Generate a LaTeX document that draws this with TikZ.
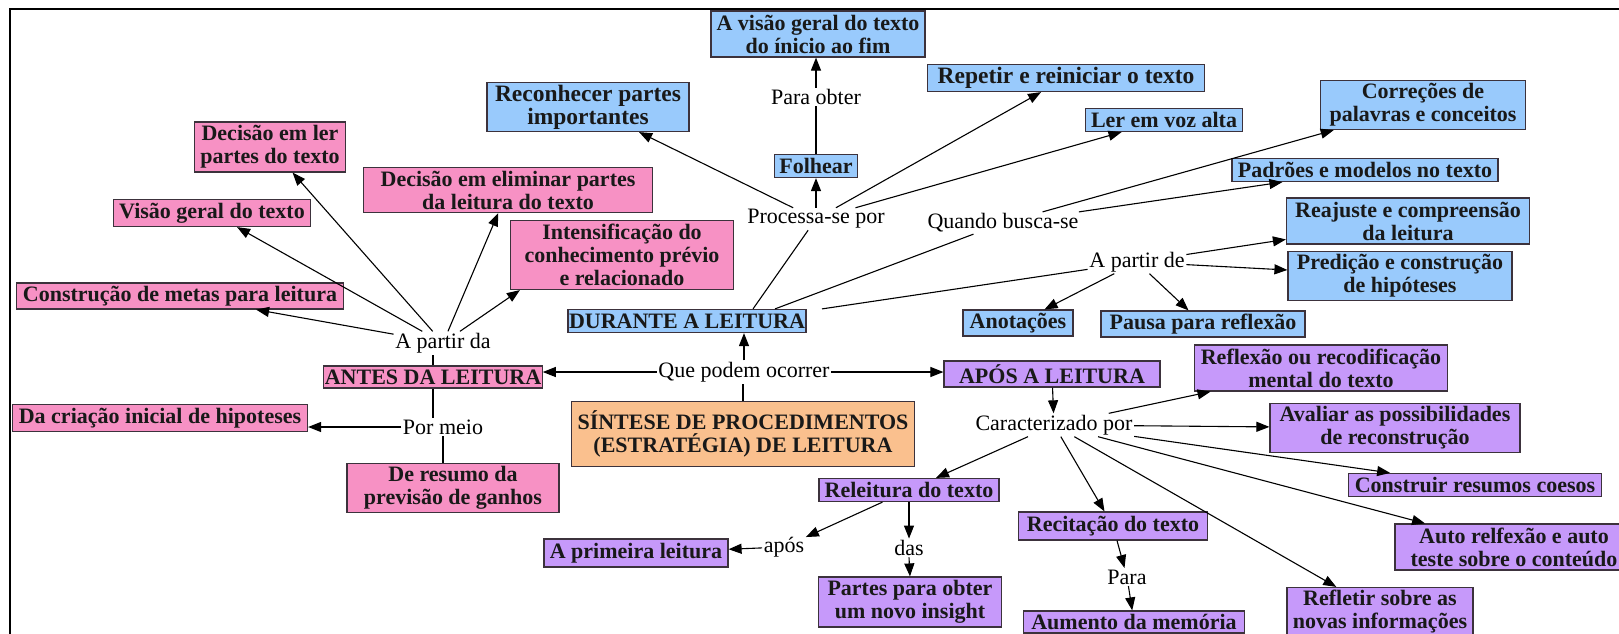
\documentclass[tikz,border=0pt]{standalone}
\usepackage{fontspec}
\setmainfont{Liberation Serif}
\usetikzlibrary{arrows.meta,calc}
\definecolor{pinkc}{RGB}{247,145,196}
\definecolor{bluec}{RGB}{153,202,252}
\definecolor{purpc}{RGB}{198,153,250}
\definecolor{orgc}{RGB}{250,192,142}
\definecolor{edgec}{RGB}{60,50,60}
\tikzset{
  box/.style={draw=edgec, line width=1.2pt, font=\bfseries\fontsize{22}{23}\selectfont, align=center, inner sep=1pt, text=black!90},
  bigtxt/.style={font=\bfseries\fontsize{23.5}{23}\selectfont},
  pk/.style={box, fill=pinkc},
  bl/.style={box, fill=bluec},
  pu/.style={box, fill=purpc},
  og/.style={box, fill=orgc},
  lbl/.style={font=\fontsize{22}{23}\selectfont, inner sep=1.5pt, align=center},
  plain/.style={line width=1.1pt},
  conn/.style={line width=1.1pt, -{Triangle[length=13pt,width=10pt]}}
}
\begin{document}
\begin{tikzpicture}[x=1pt,y=-1pt]
\useasboundingbox (0,0) rectangle (1619,633);
\begin{scope}
\clip (0,0) rectangle (1619,633);
\fill[white] (0,0) rectangle (1619,633);
\draw[line width=1.6pt] (10,660) -- (10,9) -- (1650,9);

% pink nodes
\node[pk, minimum width=151pt, minimum height=50pt] (dler) at (270,147) {Decisão em ler\\partes do texto};
\node[pk, minimum width=197pt, minimum height=27pt] (visao) at (212,213) {Visão geral do texto};
\node[pk, minimum width=327pt, minimum height=26pt] (metas) at (180,296) {Construção de metas para leitura};
\node[pk, minimum width=289pt, minimum height=45pt] (elim) at (508,190) {Decisão em eliminar partes\\da leitura do texto};
\node[pk, minimum width=223pt, minimum height=69pt] (inten) at (622,255) {Intensificação do\\conhecimento prévio\\e relacionado};
\node[pk, minimum width=208pt, minimum height=22pt] (antes) at (433,377) {ANTES DA LEITURA};
\node[pk, minimum width=295pt, minimum height=27pt] (criacao) at (160,418) {Da criação inicial de hipoteses};
\node[pk, minimum width=212pt, minimum height=49pt] (resumo) at (453,488) {De resumo da\\previsão de ganhos};

% blue nodes
\node[bl, bigtxt, minimum width=202pt, minimum height=49pt] (recon) at (588,107) {Reconhecer partes\\importantes};
\node[bl, minimum width=214pt, minimum height=46pt] (avisao) at (818,34) {A visão geral do texto\\do ínicio ao fim};
\node[bl, minimum width=83pt, minimum height=23pt] (folhear) at (816,166) {Folhear};
\node[bl, bigtxt, minimum width=277pt, minimum height=27pt] (repetir) at (1066,78) {Repetir e reiniciar o texto};
\node[bl, minimum width=157pt, minimum height=23pt] (ler) at (1164,120) {Ler em voz alta};
\node[bl, minimum width=205pt, minimum height=49pt] (corr) at (1423,105) {Correções de\\palavras e conceitos};
\node[bl, minimum width=266pt, minimum height=23pt] (padroes) at (1365,170) {Padrões e modelos no texto};
\node[bl, minimum width=243pt, minimum height=46pt] (reaj) at (1408,221) {Reajuste e compreensão\\da leitura};
\node[bl, minimum width=224pt, minimum height=49pt] (pred) at (1400,276) {Predição e construção\\de hipóteses};
\node[bl, minimum width=110pt, minimum height=26pt] (anot) at (1018,323) {Anotações};
\node[bl, minimum width=204pt, minimum height=26pt] (pausa) at (1203,324) {Pausa para reflexão};
\node[bl, minimum width=216pt, minimum height=23pt] (durante) at (687,321) {DURANTE A LEITURA};

% purple nodes
\node[pu, minimum width=216pt, minimum height=26pt] (apos) at (1052,374) {APÓS A LEITURA};
\node[pu, minimum width=180pt, minimum height=23pt] (releit) at (909,490) {Releitura do texto};
\node[pu, minimum width=184pt, minimum height=28pt] (prim) at (636,553) {A primeira leitura};
\node[pu, minimum width=183pt, minimum height=50pt] (partes) at (910,602) {Partes para obter\\um novo insight};
\node[pu, minimum width=189pt, minimum height=28pt] (recit) at (1113,526) {Recitação do texto};
\node[pu, minimum width=221pt, minimum height=22pt] (aumento) at (1134,622) {Aumento da memória};
\node[pu, minimum width=253pt, minimum height=46pt] (reflex) at (1321,368) {Reflexão ou recodificação\\mental do texto};
\node[pu, minimum width=250pt, minimum height=49pt] (avaliar) at (1395,428) {Avaliar as possibilidades\\de reconstrução};
\node[pu, minimum width=253pt, minimum height=23pt] (construir) at (1475,485) {Construir resumos coesos};
\node[pu, minimum width=238pt, minimum height=46pt] (auto) at (1514,547) {Auto relfexão e auto\\teste sobre o conteúdo};
\node[pu, minimum width=186pt, minimum height=49pt] (refletir) at (1380,612) {Refletir sobre as\\novas informações};

% orange
\node[og, minimum width=343pt, minimum height=65pt] (sintese) at (743,434) {SÍNTESE DE PROCEDIMENTOS\\(ESTRATÉGIA) DE LEITURA};

% labels
\node[lbl] (apd) at (443,343) {A partir da};
\node[lbl] (pormeio) at (443,427) {Por meio};
\node[lbl] (que) at (744,372) {Que podem ocorrer};
\node[lbl] (proc) at (816,219) {Processa-se por};
\node[lbl] (paraob) at (816,97) {Para obter};
\node[lbl] (quando) at (1003,223) {Quando busca-se};
\node[lbl] (apde) at (1137,262) {A partir de};
\node[lbl] (car) at (1054,425) {Caracterizado por};
\node[lbl] (aposl) at (784,547) {após};
\node[lbl] (das) at (909,548) {das};
\node[lbl] (para) at (1127,577) {Para};

% center connectors
\draw[plain] (sintese.north) -- (sintese.north |- que.south);
\draw[conn] (que.west) -- (que.west -| antes.east);
\draw[conn] (que.east) -- (que.east -| apos.west);
\draw[conn] (que.north) -- (que.north |- durante.south);

% antes
\draw[plain] (antes.north) -- (antes.north |- apd.south);
\draw[conn] (apd) -- (metas);
\draw[conn] (apd) -- (visao);
\draw[conn] (apd) -- (dler);
\draw[conn] (apd) -- (elim);
\draw[conn] (apd) -- ([xshift=10pt]inten.south west);
\draw[plain] (antes.south) -- (antes.south |- pormeio.north);
\draw[conn] (pormeio.west) -- (pormeio.west -| criacao.east);
\draw[plain] (pormeio.south) -- (pormeio.south |- resumo.north);

% durante
\draw[plain] ([xshift=66pt]durante.north) -- (proc);
\draw[plain] ([xshift=88pt]durante.north) -- (quando);
\draw[plain] ([xshift=135pt]durante.north) -- (apde);
\draw[conn] (proc) -- (recon);
\draw[conn] (proc.north) -- (proc.north |- folhear.south);
\draw[conn] (proc) -- (repetir);
\draw[conn] (proc) -- (ler);
\draw[plain] (folhear.north) -- (folhear.north |- paraob.south);
\draw[conn] (paraob.north) -- (paraob.north |- avisao.south);
\draw[conn] (quando) -- (corr);
\draw[conn] (quando) -- (padroes);
\draw[conn] (apde) -- (reaj);
\draw[conn] (apde) -- (pred);
\draw[conn] (apde) -- (anot);
\draw[conn] (apde) -- (pausa);

% apos
\draw[conn] (apos) -- (car);
\draw[conn] (car) -- (releit);
\draw[conn] (car) -- (recit);
\draw[conn] (car) -- (reflex);
\draw[conn] (car) -- (avaliar);
\draw[conn] (car) -- (construir);
\draw[conn] (car) -- (auto);
\draw[conn] (car) -- (refletir);
\draw[conn] (releit) -- (aposl);
\draw[conn] (aposl) -- (prim);
\draw[conn] (releit.south) -- (das.north);
\draw[conn] (das.south) -- (partes.north);
\draw[conn] (recit) -- (para);
\draw[conn] (para) -- (aumento);
\end{scope}
\end{tikzpicture}
\end{document}
